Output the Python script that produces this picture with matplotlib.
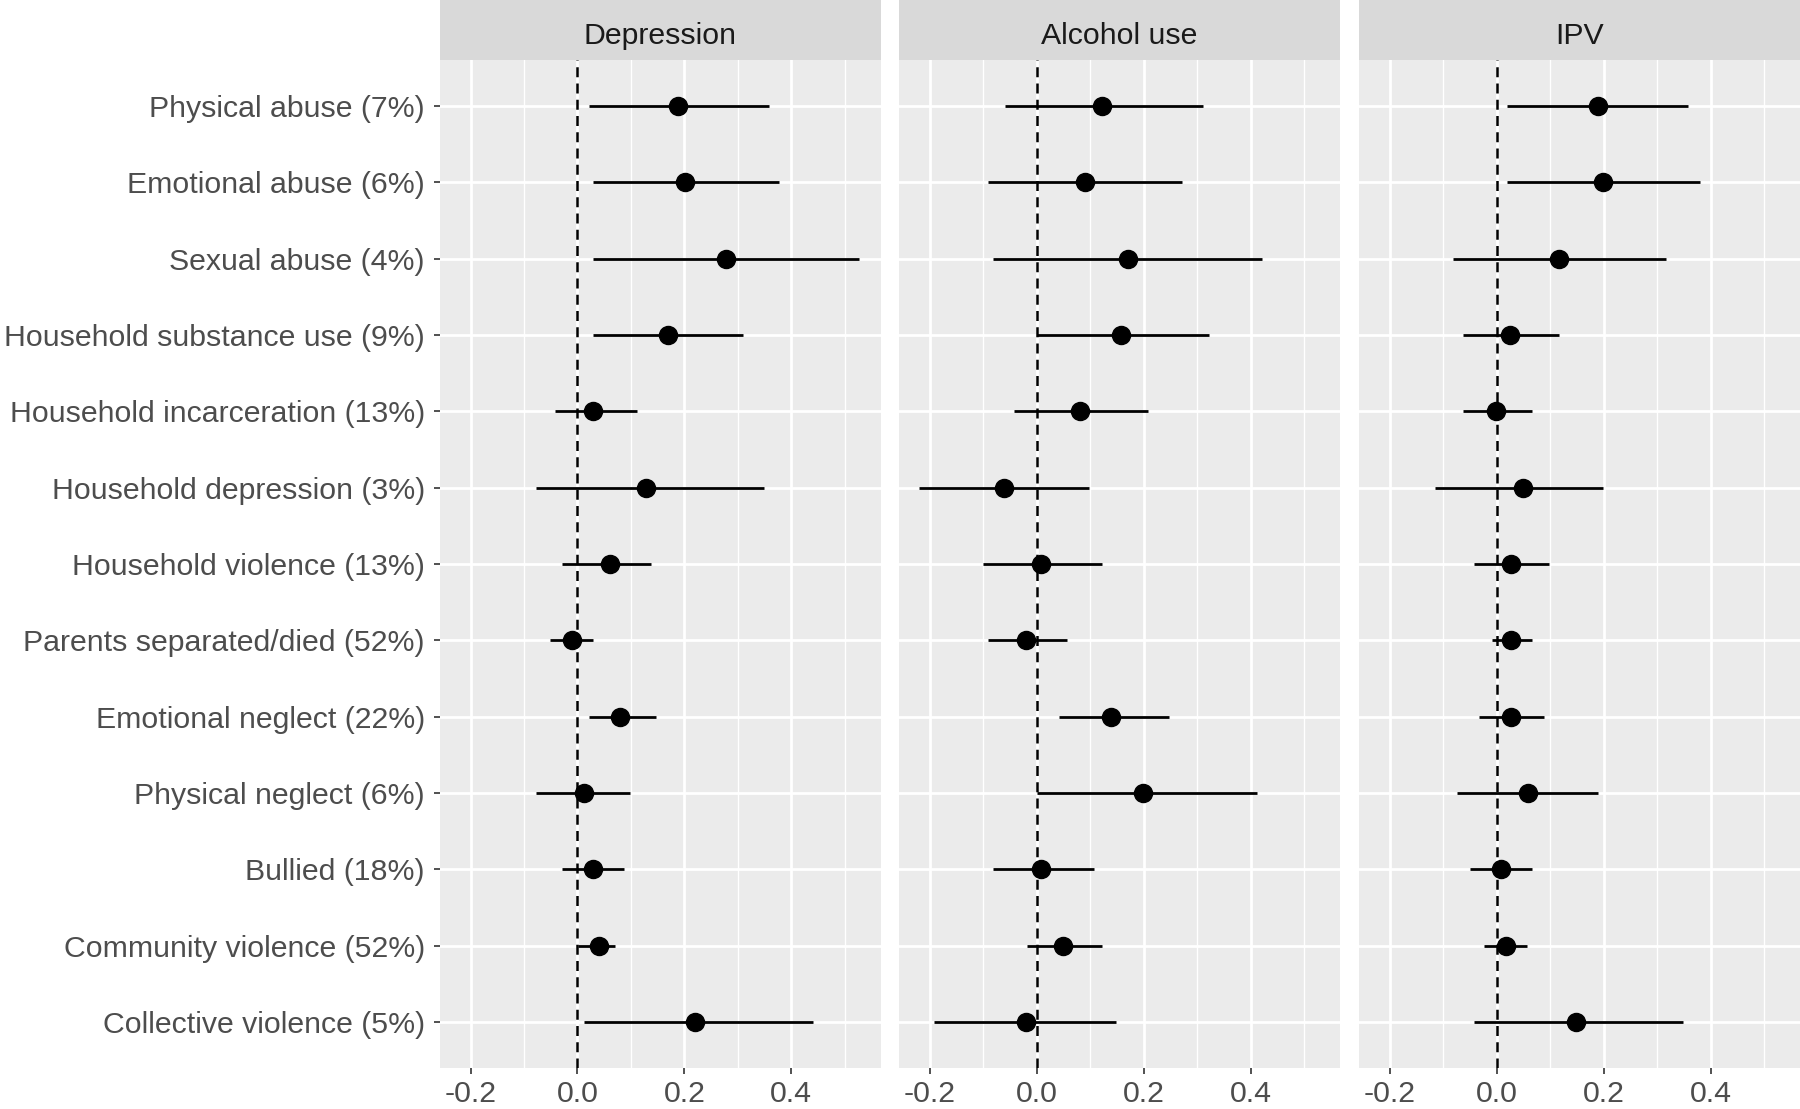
import numpy as np
import matplotlib
matplotlib.use("Agg")
import matplotlib.pyplot as plt
from matplotlib.patches import Rectangle
from matplotlib.ticker import MultipleLocator
from matplotlib.transforms import ScaledTranslation

plt.rcParams['font.family'] = ['Liberation Sans', 'DejaVu Sans']

# exposures (top to bottom)
labels = ["Physical abuse (7%)", "Emotional abuse (6%)", "Sexual abuse (4%)",
          "Household substance use (9%)", "Household incarceration (13%)",
          "Household depression (3%)", "Household violence (13%)",
          "Parents separated/died (52%)", "Emotional neglect (22%)",
          "Physical neglect (6%)", "Bullied (18%)", "Community violence (52%)",
          "Collective violence (5%)"]

panels = ["Depression", "Alcohol use", "IPV"]

dep_est = [0.188, 0.201, 0.278, 0.170, 0.029, 0.129, 0.061, -0.010, 0.080, 0.012, 0.030, 0.040, 0.220]
dep_lo = [0.022, 0.030, 0.030, 0.030, -0.042, -0.078, -0.028, -0.051, 0.022, -0.078, -0.028, 0.002, 0.012]
dep_hi = [0.359, 0.377, 0.527, 0.309, 0.111, 0.349, 0.138, 0.030, 0.147, 0.098, 0.088, 0.070, 0.441]

alc_est = [0.121, 0.090, 0.171, 0.157, 0.080, -0.061, 0.008, -0.020, 0.139, 0.199, 0.008, 0.049, -0.020]
alc_lo = [-0.060, -0.091, -0.083, 0.000, -0.042, -0.221, -0.101, -0.091, 0.041, 0.000, -0.083, -0.019, -0.192]
alc_hi = [0.311, 0.271, 0.421, 0.321, 0.207, 0.097, 0.121, 0.057, 0.248, 0.412, 0.107, 0.121, 0.148]

ipv_est = [0.189, 0.199, 0.116, 0.025, -0.002, 0.048, 0.026, 0.026, 0.026, 0.058, 0.008, 0.017, 0.148]
ipv_lo = [0.018, 0.018, -0.083, -0.064, -0.064, -0.115, -0.043, -0.010, -0.033, -0.074, -0.051, -0.024, -0.043]
ipv_hi = [0.357, 0.380, 0.316, 0.116, 0.066, 0.198, 0.098, 0.066, 0.089, 0.189, 0.066, 0.057, 0.348]

est = [dep_est, alc_est, ipv_est]
lo = [dep_lo, alc_lo, ipv_lo]
hi = [dep_hi, alc_hi, ipv_hi]

W, H = 1800, 1109
fig = plt.figure(figsize=(W / 100, H / 100), dpi=100)

lefts = [439.5, 899.0, 1359.0]
pw = 441.0
bottom_px, top_px = 1068.0, 60.0
fs = 21.8

y = np.arange(len(labels))

for i, name in enumerate(panels):
    ax = fig.add_axes([lefts[i] / W, (H - bottom_px) / H, pw / W, (bottom_px - top_px) / H])
    ax.set_facecolor('#EBEBEB')
    for s in ax.spines.values():
        s.set_visible(False)

    ax.set_xlim(-0.258, 0.567)
    ax.set_ylim(len(labels) - 1 + 0.6, -0.6)
    ax.xaxis.set_minor_locator(MultipleLocator(0.1))
    ax.set_xticks([-0.2, 0.0, 0.2, 0.4])
    ax.set_xticklabels(["-0.2", "0.0", "0.2", "0.4"])
    ax.set_yticks(y)
    if i == 0:
        ax.set_yticklabels(labels)
        # nudge labels down a little, like the reference
        for t in ax.get_yticklabels():
            t.set_transform(t.get_transform() + ScaledTranslation(0, -2 / 100, fig.dpi_scale_trans))
    else:
        ax.set_yticklabels([])

    ax.grid(which='major', color='white', linewidth=2.0)
    ax.grid(which='minor', axis='x', color='white', linewidth=1.0)
    ax.set_axisbelow(True)

    ax.tick_params(axis='x', which='major', length=4.5, width=1.2, color='#333333',
                   labelsize=fs, labelcolor='#4D4D4D', pad=4)
    ax.tick_params(axis='y', which='major', length=4.5, width=1.2, color='#333333',
                   labelsize=fs, labelcolor='#4D4D4D', pad=6)
    if i > 0:
        ax.tick_params(axis='y', length=0)
    ax.tick_params(which='minor', length=0)

    ax.axvline(0, color='black', linewidth=1.8, linestyle=(0, (4, 2.5)), zorder=2)
    ax.hlines(y, lo[i], hi[i], color='black', linewidth=2.0, zorder=3)
    ax.plot(est[i], y, 'o', color='black', markersize=13, zorder=4)

    # facet strip
    sh = top_px / (bottom_px - top_px)
    ax.add_patch(Rectangle((0, 1), 1, sh + 0.01, transform=ax.transAxes,
                           facecolor='#D9D9D9', edgecolor='none', clip_on=False))
    ax.text(0.5, 1 + (top_px - 44) / (bottom_px - top_px), name, transform=ax.transAxes,
            ha='center', va='baseline', fontsize=fs, color='#1A1A1A')

fig.savefig("out.png", dpi=100, facecolor='white')
